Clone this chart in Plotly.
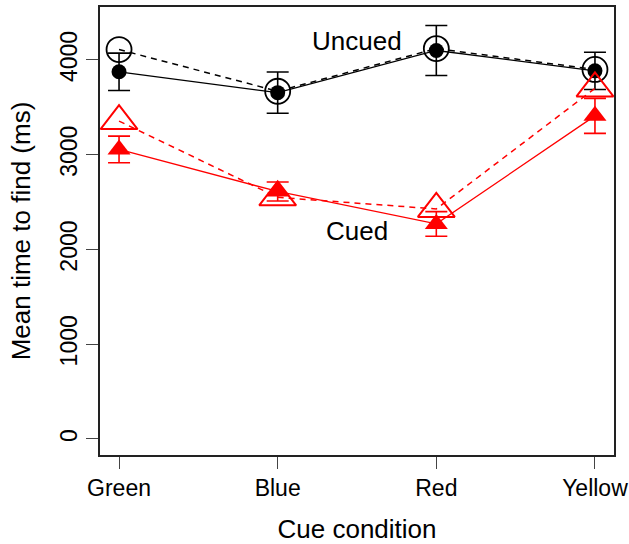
import plotly.graph_objects as go

categories = ["Green", "Blue", "Red", "Yellow"]
xpos = [1, 2, 3, 4]

uncued_open = [4110, 3670, 4120, 3900]
uncued_filled = [3875, 3655, 4100, 3885]
uncued_err = [197, 218, 264, 197]

cued_open = [3355, 2550, 2428, 3700]
cued_filled = [3056, 2612, 2270, 3410]
cued_err = [140, 100, 130, 185]

y_ticks = [0, 1000, 2000, 3000, 4000]

FONT = "Liberation Sans, Arial, Helvetica, sans-serif"

fig = go.Figure()

# Uncued dashed with open circles
fig.add_trace(go.Scatter(
    x=xpos, y=uncued_open, mode="lines+markers",
    line=dict(color="black", width=1.5, dash="6px,5px"),
    marker=dict(symbol="circle-open", size=25, color="black", line=dict(width=1.8, color="black")),
    showlegend=False))
# Uncued solid with filled circles and error bars
fig.add_trace(go.Scatter(
    x=xpos, y=uncued_filled, mode="lines+markers",
    line=dict(color="black", width=1.3),
    marker=dict(symbol="circle", size=15, color="black"),
    error_y=dict(type="data", array=uncued_err, visible=True, color="black", thickness=1.6, width=11),
    showlegend=False))
# Cued dashed with open triangles
fig.add_trace(go.Scatter(
    x=xpos, y=cued_open, mode="lines+markers",
    line=dict(color="#ff0000", width=1.5, dash="6px,5px"),
    marker=dict(symbol="triangle-up-open", size=32, color="#ff0000", line=dict(width=2, color="#ff0000")),
    showlegend=False))
# Cued solid with filled triangles and error bars
fig.add_trace(go.Scatter(
    x=xpos, y=cued_filled, mode="lines+markers",
    line=dict(color="#ff0000", width=1.3),
    marker=dict(symbol="triangle-up", size=20, color="#ff0000"),
    error_y=dict(type="data", array=cued_err, visible=True, color="#ff0000", thickness=1.6, width=11),
    showlegend=False))

fig.add_annotation(x=2.5, y=4200, text="Uncued", showarrow=False,
                   font=dict(size=26, color="black", family=FONT), xanchor="center", yanchor="middle")
fig.add_annotation(x=2.5, y=2195, text="Cued", showarrow=False,
                   font=dict(size=26, color="black", family=FONT), xanchor="center", yanchor="middle")

fig.update_layout(
    width=629, height=544,
    margin=dict(l=100, r=15, t=7, b=89),
    paper_bgcolor="white", plot_bgcolor="white",
    font=dict(family=FONT, color="black"),
    xaxis=dict(
        range=[0.88, 4.12], tickvals=xpos, ticktext=categories,
        showgrid=False, zeroline=False,
        showline=True, linecolor="#222", linewidth=1.5, mirror=True,
        ticks="outside", ticklen=12, tickwidth=1.2, tickcolor="#444",
        tickfont=dict(size=23, family=FONT, color="black"),
        title=dict(text="Cue condition", font=dict(size=26, family=FONT, color="black"), standoff=19),
        automargin=False,
    ),
    yaxis=dict(
        range=[-169, 4559], tickvals=y_ticks, ticktext=[str(v) for v in y_ticks],
        tickangle=-90,
        showgrid=False, zeroline=False,
        showline=True, linecolor="#222", linewidth=1.5, mirror=True,
        ticks="outside", ticklen=12, tickwidth=1.2, tickcolor="#444",
        tickfont=dict(size=23, family=FONT, color="black"),
        title=dict(text="Mean time to find (ms)", font=dict(size=26, family=FONT, color="black"), standoff=18),
        automargin=False,
    ),
)

fig.write_html("out.html", config={"displayModeBar": False},
               post_script="document.body.style.margin='0px';")
